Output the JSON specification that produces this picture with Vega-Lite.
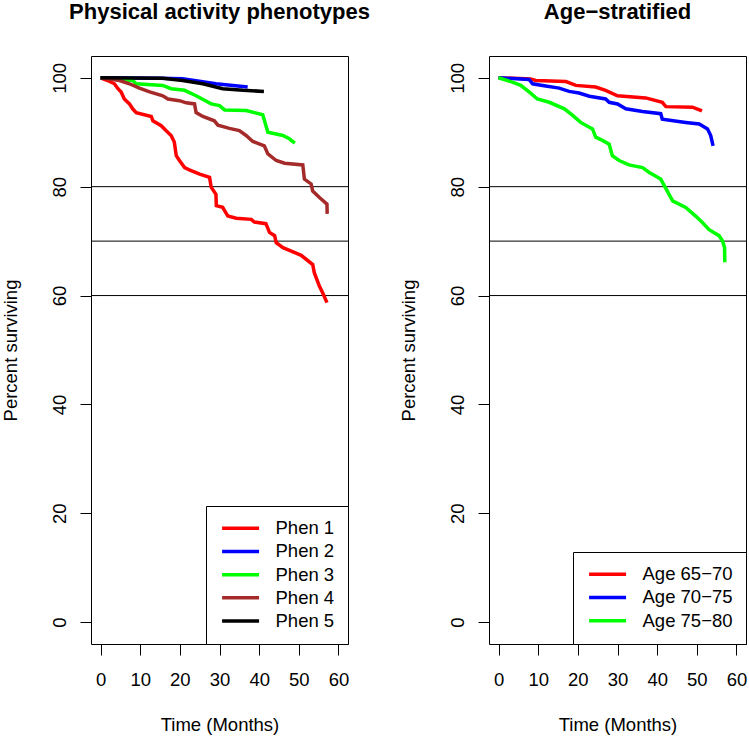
{
  "$schema": "https://vega.github.io/schema/vega-lite/v6.json",
  "background": "white",
  "padding": {"left": 0, "top": 0, "right": 5, "bottom": 0},
  "bounds": "flush",
  "spacing": 141,
  "config": {
    "font": "Liberation Sans",
    "view": {"stroke": "black", "strokeWidth": 1},
    "axis": {
      "grid": false,
      "domain": false,
      "tickColor": "black",
      "tickSize": 11,
      "labelColor": "black",
      "labelFontSize": 18.5,
      "titleColor": "black",
      "titleFontSize": 18.5,
      "titleFontWeight": "normal",
      "labelFont": "Liberation Sans",
      "titleFont": "Liberation Sans"
    },
    "axisX": {"labelPadding": 15, "titlePadding": 27, "labelFlush": false},
    "axisY": {"labelAngle": -90, "labelAlign": "center", "labelBaseline": "alphabetic", "labelPadding": 15, "titlePadding": 30},
    "title": {"fontSize": 22, "fontWeight": "bold", "anchor": "middle", "baseline": "alphabetic", "offset": 32, "color": "black", "font": "Liberation Sans"},
    "legend": {
      "orient": "bottom-right",
      "offset": 0,
      "strokeColor": "black",
      "fillColor": "white",
      "padding": 13,
      "cornerRadius": 0,
      "symbolType": "M-1,0H5",
      "symbolSize": 152,
      "symbolStrokeWidth": 3.5,
      "labelFontSize": 18.5,
      "labelOffset": 38,
      "rowPadding": 4.2,
      "labelColor": "black",
      "labelFont": "Liberation Sans"
    }
  },
  "datasets": {
    "phen": [
      {"g": "Phen 1", "t": 0, "s": 100}, {"g": "Phen 1", "t": 1.8, "s": 99.5}, {"g": "Phen 1", "t": 3.5, "s": 98.9}, {"g": "Phen 1", "t": 4.4, "s": 98}, {"g": "Phen 1", "t": 5.2, "s": 97.4}, {"g": "Phen 1", "t": 6, "s": 96.1}, {"g": "Phen 1", "t": 7.3, "s": 95.2}, {"g": "Phen 1", "t": 8.1, "s": 94.3}, {"g": "Phen 1", "t": 9, "s": 93.6}, {"g": "Phen 1", "t": 12.8, "s": 92.9}, {"g": "Phen 1", "t": 13.2, "s": 92.1}, {"g": "Phen 1", "t": 15.3, "s": 91.2}, {"g": "Phen 1", "t": 16.5, "s": 90.3}, {"g": "Phen 1", "t": 17.8, "s": 89.4}, {"g": "Phen 1", "t": 18.6, "s": 88.2}, {"g": "Phen 1", "t": 19.1, "s": 85.7}, {"g": "Phen 1", "t": 19.9, "s": 84.8}, {"g": "Phen 1", "t": 21.2, "s": 83.5}, {"g": "Phen 1", "t": 22.4, "s": 83.1}, {"g": "Phen 1", "t": 25, "s": 82.3}, {"g": "Phen 1", "t": 27.5, "s": 81.7}, {"g": "Phen 1", "t": 27.9, "s": 79.9}, {"g": "Phen 1", "t": 29.1, "s": 78.6}, {"g": "Phen 1", "t": 29.2, "s": 76.5}, {"g": "Phen 1", "t": 30.8, "s": 76.2}, {"g": "Phen 1", "t": 32.1, "s": 74.6}, {"g": "Phen 1", "t": 34.2, "s": 74.2}, {"g": "Phen 1", "t": 38, "s": 74}, {"g": "Phen 1", "t": 38.8, "s": 73.5}, {"g": "Phen 1", "t": 41.7, "s": 73.2}, {"g": "Phen 1", "t": 42.6, "s": 71.6}, {"g": "Phen 1", "t": 43.9, "s": 71}, {"g": "Phen 1", "t": 44.3, "s": 69.7}, {"g": "Phen 1", "t": 46, "s": 68.8}, {"g": "Phen 1", "t": 50.6, "s": 67.4}, {"g": "Phen 1", "t": 53.5, "s": 65.7}, {"g": "Phen 1", "t": 53.9, "s": 64.2}, {"g": "Phen 1", "t": 55.2, "s": 61.7}, {"g": "Phen 1", "t": 56, "s": 60.5}, {"g": "Phen 1", "t": 57.1, "s": 58.7},
      {"g": "Phen 2", "t": 0, "s": 100}, {"g": "Phen 2", "t": 15, "s": 99.9}, {"g": "Phen 2", "t": 20.7, "s": 99.8}, {"g": "Phen 2", "t": 29.1, "s": 98.9}, {"g": "Phen 2", "t": 37.1, "s": 98.3},
      {"g": "Phen 3", "t": 0, "s": 100}, {"g": "Phen 3", "t": 8.1, "s": 99.5}, {"g": "Phen 3", "t": 9, "s": 98.9}, {"g": "Phen 3", "t": 15.7, "s": 98.6}, {"g": "Phen 3", "t": 17.8, "s": 98}, {"g": "Phen 3", "t": 21.2, "s": 97.7}, {"g": "Phen 3", "t": 24.1, "s": 96.7}, {"g": "Phen 3", "t": 27.9, "s": 95.2}, {"g": "Phen 3", "t": 30, "s": 94.9}, {"g": "Phen 3", "t": 31.3, "s": 94.1}, {"g": "Phen 3", "t": 36.7, "s": 94}, {"g": "Phen 3", "t": 40.9, "s": 93.2}, {"g": "Phen 3", "t": 42.2, "s": 90}, {"g": "Phen 3", "t": 46, "s": 89.4}, {"g": "Phen 3", "t": 47.6, "s": 88.8}, {"g": "Phen 3", "t": 49, "s": 88},
      {"g": "Phen 4", "t": 0, "s": 100}, {"g": "Phen 4", "t": 4.8, "s": 99.5}, {"g": "Phen 4", "t": 7.3, "s": 98.9}, {"g": "Phen 4", "t": 9.8, "s": 98.1}, {"g": "Phen 4", "t": 12.4, "s": 97.4}, {"g": "Phen 4", "t": 15.7, "s": 96.7}, {"g": "Phen 4", "t": 17, "s": 96.1}, {"g": "Phen 4", "t": 19.9, "s": 95.8}, {"g": "Phen 4", "t": 21.6, "s": 95.4}, {"g": "Phen 4", "t": 23.7, "s": 95.2}, {"g": "Phen 4", "t": 24.1, "s": 93.6}, {"g": "Phen 4", "t": 25.8, "s": 92.9}, {"g": "Phen 4", "t": 28.7, "s": 92.1}, {"g": "Phen 4", "t": 29.6, "s": 91.3}, {"g": "Phen 4", "t": 32.5, "s": 90.7}, {"g": "Phen 4", "t": 35, "s": 90.3}, {"g": "Phen 4", "t": 36.7, "s": 89.4}, {"g": "Phen 4", "t": 38.4, "s": 88.3}, {"g": "Phen 4", "t": 41.3, "s": 87.5}, {"g": "Phen 4", "t": 42.2, "s": 86}, {"g": "Phen 4", "t": 44.3, "s": 84.8}, {"g": "Phen 4", "t": 46.4, "s": 84.3}, {"g": "Phen 4", "t": 51, "s": 84}, {"g": "Phen 4", "t": 51.4, "s": 81.4}, {"g": "Phen 4", "t": 53.1, "s": 80.5}, {"g": "Phen 4", "t": 53.5, "s": 79.2}, {"g": "Phen 4", "t": 55.2, "s": 78}, {"g": "Phen 4", "t": 57.1, "s": 76.8}, {"g": "Phen 4", "t": 57.15, "s": 75},
      {"g": "Phen 5", "t": 0, "s": 100}, {"g": "Phen 5", "t": 15.7, "s": 99.9}, {"g": "Phen 5", "t": 20.7, "s": 99.5}, {"g": "Phen 5", "t": 25.8, "s": 98.9}, {"g": "Phen 5", "t": 30.8, "s": 98}, {"g": "Phen 5", "t": 35.9, "s": 97.7}, {"g": "Phen 5", "t": 41.2, "s": 97.5}
    ],
    "age": [
      {"g": "Age 65−70", "t": 0, "s": 100}, {"g": "Age 65−70", "t": 8.1, "s": 99.8}, {"g": "Age 65−70", "t": 9.4, "s": 99.5}, {"g": "Age 65−70", "t": 17, "s": 99.3}, {"g": "Age 65−70", "t": 19.5, "s": 98.6}, {"g": "Age 65−70", "t": 24.5, "s": 98.3}, {"g": "Age 65−70", "t": 27, "s": 97.7}, {"g": "Age 65−70", "t": 30, "s": 96.7}, {"g": "Age 65−70", "t": 37.1, "s": 96.3}, {"g": "Age 65−70", "t": 41.3, "s": 95.5}, {"g": "Age 65−70", "t": 42.2, "s": 94.7}, {"g": "Age 65−70", "t": 48.9, "s": 94.6}, {"g": "Age 65−70", "t": 51.3, "s": 93.9},
      {"g": "Age 70−75", "t": 0, "s": 100}, {"g": "Age 70−75", "t": 7.7, "s": 99.7}, {"g": "Age 70−75", "t": 8.6, "s": 98.9}, {"g": "Age 70−75", "t": 11.1, "s": 98.6}, {"g": "Age 70−75", "t": 15.3, "s": 98.1}, {"g": "Age 70−75", "t": 17.8, "s": 97.5}, {"g": "Age 70−75", "t": 20.3, "s": 97.2}, {"g": "Age 70−75", "t": 22.9, "s": 96.6}, {"g": "Age 70−75", "t": 27, "s": 96.1}, {"g": "Age 70−75", "t": 27.9, "s": 95.5}, {"g": "Age 70−75", "t": 30, "s": 95.2}, {"g": "Age 70−75", "t": 32.1, "s": 94.3}, {"g": "Age 70−75", "t": 36.3, "s": 93.8}, {"g": "Age 70−75", "t": 40.9, "s": 93.4}, {"g": "Age 70−75", "t": 41.3, "s": 92.4}, {"g": "Age 70−75", "t": 47.2, "s": 91.8}, {"g": "Age 70−75", "t": 50.6, "s": 91.5}, {"g": "Age 70−75", "t": 52.7, "s": 90.6}, {"g": "Age 70−75", "t": 53.5, "s": 89.4}, {"g": "Age 70−75", "t": 54.1, "s": 87.5},
      {"g": "Age 75−80", "t": 0, "s": 100}, {"g": "Age 75−80", "t": 3.5, "s": 99.2}, {"g": "Age 75−80", "t": 5.6, "s": 98.6}, {"g": "Age 75−80", "t": 7.7, "s": 97.4}, {"g": "Age 75−80", "t": 9.8, "s": 96.1}, {"g": "Age 75−80", "t": 12.8, "s": 95.5}, {"g": "Age 75−80", "t": 16.6, "s": 94.3}, {"g": "Age 75−80", "t": 18.7, "s": 93.1}, {"g": "Age 75−80", "t": 20.7, "s": 91.8}, {"g": "Age 75−80", "t": 23.7, "s": 90.6}, {"g": "Age 75−80", "t": 24.5, "s": 89.1}, {"g": "Age 75−80", "t": 26.2, "s": 88.5}, {"g": "Age 75−80", "t": 27.9, "s": 87.8}, {"g": "Age 75−80", "t": 28.7, "s": 85.7}, {"g": "Age 75−80", "t": 30.4, "s": 84.8}, {"g": "Age 75−80", "t": 32.9, "s": 84}, {"g": "Age 75−80", "t": 36.3, "s": 83.5}, {"g": "Age 75−80", "t": 38, "s": 82.6}, {"g": "Age 75−80", "t": 40.9, "s": 81.4}, {"g": "Age 75−80", "t": 41.8, "s": 80.2}, {"g": "Age 75−80", "t": 43, "s": 78.6}, {"g": "Age 75−80", "t": 43.9, "s": 77.4}, {"g": "Age 75−80", "t": 47.2, "s": 76.2}, {"g": "Age 75−80", "t": 49.7, "s": 74.6}, {"g": "Age 75−80", "t": 51.4, "s": 73.4}, {"g": "Age 75−80", "t": 53.1, "s": 72.1}, {"g": "Age 75−80", "t": 55.6, "s": 71}, {"g": "Age 75−80", "t": 56.5, "s": 70}, {"g": "Age 75−80", "t": 57, "s": 68.8}, {"g": "Age 75−80", "t": 57.05, "s": 66.1}
    ],
    "refs": [{"y": 80}, {"y": 70}, {"y": 60}]
  },
  "resolve": {"scale": {"color": "independent"}},
  "hconcat": [
    {
      "title": "Physical activity phenotypes",
      "width": 257,
      "height": 588,
      "layer": [
        {
          "data": {"name": "refs"},
          "mark": {"type": "rule", "color": "black", "strokeWidth": 1},
          "encoding": {"y": {"field": "y", "type": "quantitative", "scale": {"domain": [-4, 104], "nice": false, "zero": false}}}
        },
        {
          "data": {"name": "phen"},
          "mark": {"type": "line", "strokeWidth": 3.5, "clip": true},
          "encoding": {
            "x": {"field": "t", "type": "quantitative", "title": "Time (Months)", "scale": {"domain": [-2.4, 62.4], "nice": false, "zero": false}, "axis": {"values": [0, 10, 20, 30, 40, 50, 60]}},
            "y": {"field": "s", "type": "quantitative", "title": "Percent surviving", "scale": {"domain": [-4, 104], "nice": false, "zero": false}, "axis": {"values": [0, 20, 40, 60, 80, 100]}},
            "color": {
              "field": "g",
              "type": "nominal",
              "scale": {"domain": ["Phen 1", "Phen 2", "Phen 3", "Phen 4", "Phen 5"], "range": ["#ff0000", "#0000ff", "#00ff00", "#a52a2a", "#000000"]},
              "legend": {"title": null}
            }
          }
        }
      ]
    },
    {
      "title": "Age−stratified",
      "width": 257,
      "height": 588,
      "layer": [
        {
          "data": {"name": "refs"},
          "mark": {"type": "rule", "color": "black", "strokeWidth": 1},
          "encoding": {"y": {"field": "y", "type": "quantitative", "scale": {"domain": [-4, 104], "nice": false, "zero": false}}}
        },
        {
          "data": {"name": "age"},
          "mark": {"type": "line", "strokeWidth": 3.5, "clip": true},
          "encoding": {
            "x": {"field": "t", "type": "quantitative", "title": "Time (Months)", "scale": {"domain": [-2.4, 62.4], "nice": false, "zero": false}, "axis": {"values": [0, 10, 20, 30, 40, 50, 60]}},
            "y": {"field": "s", "type": "quantitative", "title": "Percent surviving", "scale": {"domain": [-4, 104], "nice": false, "zero": false}, "axis": {"values": [0, 20, 40, 60, 80, 100]}},
            "color": {
              "field": "g",
              "type": "nominal",
              "scale": {"domain": ["Age 65−70", "Age 70−75", "Age 75−80"], "range": ["#ff0000", "#0000ff", "#00ff00"]},
              "legend": {"title": null}
            }
          }
        }
      ]
    }
  ]
}
